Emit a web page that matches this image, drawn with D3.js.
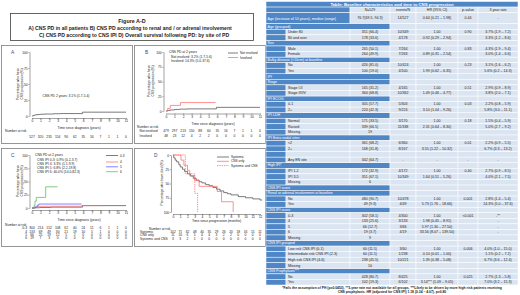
<!DOCTYPE html>
<html>
<head>
<meta charset="utf-8">
<script src="https://cdn.jsdelivr.net/npm/d3@7"></script>
<style>
  body { margin: 0; background: #fff; }
  svg { display: block; font-family: "Liberation Sans", Arial, sans-serif; }
</style>
</head>
<body>
<svg id="fig" width="520" height="295"></svg>
<script>
// ---- data ----
const yearTicks = [0, 1, 2, 3, 4, 5, 6, 7, 8, 9, 10, 11];
const monthTicks = [0, 1, 2, 3, 4, 5, 6, 7, 8, 9, 10, 11, 12];
const pctTicks = [0, 25, 50, 75, 100];

// A: all patients
const allTime = [0, 0.15, 0.3, 0.45, 0.7, 1.0, 1.5, 2.5, 3.3, 5.9];
const allPct = [0, 1.0, 1.6, 2.0, 2.4, 2.8, 3.1, 3.5, 3.8, 6.0];
const allEnd = 11;
const riskAll = [527, 320, 235, 154, 90, 62, 35, 16, 7, 1, 1, 0];

// B: renal / adrenal involvement
const notInvTime = [0, 0.2, 0.5, 1.0, 1.6, 2.5, 5.9];
const notInvPct = [0, 1.0, 1.8, 2.6, 3.2, 3.6, 6.2];
const notInvEnd = 11;
const invTime = [0, 0.2, 0.5, 1.7];
const invPct = [0, 4.5, 9.5, 14.3];
const invEnd = 5.8;
const riskNotInv = [479, 297, 213, 150, 88, 60, 35, 16, 7, 1, 1, 0];
const riskInv = [48, 23, 12, 4, 2, 2, 0, 0, 0, 0, 0, 0];

// C: CNS IPI
const ipi03Time = [0, 0.4, 0.9, 2.2, 5.9];
const ipi03Pct = [0, 0.5, 1.0, 1.6, 4.5];
const ipi03End = 11;
const ipi4Time = [0, 0.3, 0.6, 1.0, 5.8];
const ipi4Pct = [0, 1.5, 2.5, 3.3, 4.5];
const ipi4End = 8.3;
const ipi5Time = [0, 0.3, 0.6, 0.8];
const ipi5Pct = [0, 2, 5, 7.5];
const ipi5End = 5.8;
const ipi6Time = [0, 0.25, 0.35, 0.5, 1.6];
const ipi6Pct = [0, 5, 13, 20, 40];
const ipi6End = 3;
const riskIpi03 = [300, 214, 152, 108, 62, 40, 24, 11, 6, 1, 1, 0];
const riskIpi4 = [133, 69, 49, 30, 21, 19, 10, 5, 1, 0, 0, 0];
const riskIpi5 = [66, 25, 19, 12, 5, 2, 0, 0, 0, 0, 0, 0];
const riskIpi6 = [19, 7, 3, 0, 0, 0, 0, 0, 0, 0, 0, 0];

// D: overall survival after PD (percent died)
const sysTime = [0, 0.1, 0.3, 0.5, 0.8, 1.0, 1.3, 1.6, 2.0, 2.4, 2.8, 3.2, 3.6, 4.0, 4.5, 5.0, 5.5, 6.0, 6.5, 7.0, 7.5, 8.0, 9.0, 10.0, 11.0, 12.0];
const sysPct = [0, 5, 9, 12, 17, 21, 25, 29, 33, 37, 41, 44, 47, 49, 52, 54, 57, 60, 63, 66, 68, 70, 73, 75, 77, 79];
const sysEnd = 12.3;
const cnsTime = [0, 1.1, 1.5, 2.0, 2.3, 3.0, 3.6, 6.1, 6.7, 8.3];
const cnsPct = [0, 9, 18, 27, 36, 45, 55, 64, 82, 100];
const cnsEnd = 8.3;
const bothTime = [0, 1.7, 3.0, 3.4];
const bothPct = [0, 33, 67, 100];
const bothEnd = 3.4;
const riskSys = [102, 71, 62, 48, 40, 35, 29, 26, 20, 18, 16, 15, 11];
const riskCns = [11, 10, 6, 5, 4, 4, 3, 2, 2, 0, 0, 0, 0];
const riskBoth = [3, 3, 2, 1, 0, 0, 0, 0, 0, 0, 0, 0, 0];

// table
const tableHeaders = ["N=529", "events/N", "HR (95% CI)", "p-value", "3 year rate"];
const ageRow = ["Age (increase of 10 years), median (range)", "76.7(69.5- 94.3)", "14/527", "0.64 (0.21 \u2013 1.98)", "0.44", "-"];
const tableSections = [
  [4, "Age (grouped)"], [7, "Sex"], [10, "Bulky disease (>10cm) at baseline"], [13, "IPI"], [14, "Stage"],
  [17, "IPI ECOG"], [20, "IPI LDH"], [24, "IPI Extra nodal sites"], [29, "High IPI*"], [33, "CNS IPI score"],
  [34, "Renal or adrenal involvement at baseline"], [37, "CNS IPI score"], [43, "CNS IPI grouped"], [48, "CNS Prophylaxis***"]
];
const tableRows = [
  [5, "Under 80", "351 (66.4)", "10/349", "1.00", "0.90", "3.7% (1.9 \u2013 7.2)"],
  [6, "80 and over", "178 (33.6)", "4/178", "0.92 (0.29 \u2013 2.94)", "", "3.3% (1.2 \u2013 8.6)"],
  [8, "Male", "265 (50.1)", "7/264", "1.00", "0.83", "4.3% (1.9 \u2013 9.4)"],
  [9, "Female", "264 (49.9)", "7/263", "0.89 (0.31 \u2013 2.54)", "", "3.0% (1.4 \u2013 6.6)"],
  [11, "No", "426 (81.0)", "10/424", "1.00", "0.23", "3.1% (1.6 \u2013 6.2)"],
  [12, "Yes", "100 (19.0)", "4/100", "1.99 (0.62 \u2013 6.35)", "", "5.6% (0.2 \u2013 14.3)"],
  [15, "Stage I-II", "165 (31.2)", "4/165", "1.00", "0.51", "2.9% (0.9 \u2013 8.9)"],
  [16, "Stage III/IV", "364 (68.8)", "10/362", "1.49 (0.46 \u2013 4.77)", "", "3.8% (2.0 \u2013 7.1)"],
  [18, "0-1", "305 (57.7)", "5/303", "1.00", "0.03", "2.2% (0.8 \u2013 5.9)"],
  [19, "2+", "224 (42.3)", "9/224", "3.10 (1.04 \u2013 9.26)", "", "5.8% (3.0 \u2013 11.1)"],
  [21, "Normal", "171 (33.5)", "3/170", "1.00", "0.18", "1.5% (0.4 \u2013 5.9)"],
  [22, "Raised", "339 (66.5)", "11/338", "2.31 (0.64 \u2013 8.30)", "", "5.0% (2.7 \u2013 9.2)"],
  [23, "Missing", "19", "", "", "", ""],
  [25, "<2", "361 (68.2)", "6/360", "1.00", "0.01", "2.2% (0.9 \u2013 5.5)"],
  [26, "2+", "168 (31.8)", "8/167", "3.55 (1.22 \u2013 10.32)", "", "6.7% (3.3 \u2013 13.2)"],
  [27, "", "", "", "", "", ""],
  [28, "Any EN site", "342 (64.7)", "-", "-", "-", "-"],
  [30, "IPI 1-2", "172 (32.9)", "4/172", "1.00", "0.40", "2.7% (0.9 \u2013 8.5)"],
  [31, "IPI 3-5", "351 (67.1)", "10/349", "1.64 (0.51 \u2013 5.26)", "", "4.0% (2.1 \u2013 7.5)"],
  [32, "Missing", "6", "", "", "", ""],
  [35, "No", "480 (90.7)", "10/478", "1.00", "0.001", "2.8% (1.4 \u2013 5.4)"],
  [36, "Yes", "49 (9.3)", "4/49", "5.73 (1.76 \u2013 18.66)", "", "14.3% (5.0 \u2013 37.6)"],
  [38, "0-3", "302 (58.1)", "4/300", "1.00", "<0.001", "-**"],
  [39, "4", "133 (25.6)", "3/133", "1.98 (0.45 \u2013 8.91)", "", "-"],
  [40, "5", "66 (12.7)", "3/66", "5.97 (1.30 \u2013 27.50)", "", "-"],
  [41, "6", "19 (3.7)", "4/19", "33.56 (8.07 \u2013 139.50)", "", "-"],
  [42, "Missing", "9", "", "", "", ""],
  [44, "Low risk CNS IPI (0-1)", "60 (11.5)", "3/60", "1.00", "0.006", "4.0% (1.0 \u2013 15.0)"],
  [45, "Intermediate risk CNS IPI (2-3)", "60 (11.5)", "1/238", "0.10 (0.01 \u2013 1.00)", "", "1.1% (0.2 \u2013 7.2)"],
  [46, "High risk CNS IPI (4-6)", "238 (45.5)", "10/221", "1.39 (0.38 \u2013 5.08)", "", "6.7% (3.6 \u2013 12.4)"],
  [47, "Missing", "10", "", "", "", ""],
  [49, "No", "428 (80.7)", "8/425", "1.00", "0.025", "2.7% (1.3 \u2013 5.8)"],
  [50, "Yes", "102 (19.3)", "6/102", "3.14*** (1.09 \u2013 9.05)", "", "7.0% (3.2 \u2013 15.3)"]
];
const footnotes = [
  "*Fails the assumption of PH (p=0.0453), **3-year rate not available for all groups, ***Likely to be driven by more high risk patients receiving",
  "CNS prophylaxis. HR (adjusted for CNS IPI) 1.18 (0.34 \u2013 4.07), p=0.80"
];

// ---- drawing ----
const svg = d3.select("#fig");
const GRAY = "#505050", RED = "#ff6b6b", BLUE = "#5a5aff", GREEN = "#5cb85c";
const BLUEBG = "#4f86c6", LIGHT = "#dbe5f1";

function txt(g, x, y, s, size, opts = {}) {
  return g.append("text").attr("x", x).attr("y", y).text(s)
    .attr("font-size", size)
    .attr("dominant-baseline", "central")
    .attr("text-anchor", opts.anchor || "start")
    .attr("font-weight", opts.weight || "normal")
    .attr("fill", opts.fill || "#222");
}

// title box
svg.append("rect").attr("x", 10.5).attr("y", 13.5).attr("width", 243).attr("height", 27)
  .attr("fill", "#fff").attr("stroke", "#404040").attr("stroke-width", 0.8);
txt(svg, 132, 21, "Figure A-D", 5.4, { anchor: "middle", weight: "bold" });
txt(svg, 130, 28.3, "A) CNS PD in all patients B) CNS PD according to renal and / or adrenal involvement", 5.1, { anchor: "middle", weight: "bold" });
txt(svg, 134, 35.3, "C) CNS PD according to CNS IPI D) Overall survival following PD: by site of PD", 5.1, { anchor: "middle", weight: "bold" });

function drawPanel(p) {
  const g = svg.append("g");
  g.append("rect").attr("x", p.box[0] + 0.5).attr("y", p.box[1] + 0.5)
    .attr("width", p.box[2] - p.box[0]).attr("height", p.box[3] - p.box[1])
    .attr("fill", "#fff").attr("stroke", "#8c8c8c").attr("stroke-width", 0.9);
  txt(g, p.letter[0], p.letter[1], p.letterText, 4.8, { fill: "#2b4a8a" });

  const x = d3.scaleLinear().domain([0, d3.max(p.xTicks)]).range(p.xRange);
  const y = d3.scaleLinear().domain([0, 100]).range(p.yRange);

  const xa = g.append("g").attr("transform", `translate(0,${p.xAxisY})`)
    .call(d3.axisBottom(x).tickValues(p.xTicks).tickSize(1.2).tickSizeOuter(0).tickPadding(0.6));
  const ya = g.append("g").attr("transform", `translate(${p.yAxisX},0)`)
    .call(d3.axisLeft(y).tickValues(pctTicks).tickSize(1.2).tickSizeOuter(0).tickPadding(0.6));
  [xa, ya].forEach(a => {
    a.attr("font-family", null).attr("font-size", null);
    a.selectAll("path,line").attr("stroke", "#333").attr("stroke-width", 0.45);
    a.selectAll("text").attr("font-size", 3.3).attr("fill", "#222");
  });

  // y title
  p.yTitle.forEach((line, i) => {
    g.append("text").attr("transform", `translate(${p.yTitleX + i * 4},${p.yTitleY}) rotate(-90)`)
      .attr("text-anchor", "middle").attr("font-size", 3.3).attr("fill", "#222").text(line);
  });
  txt(g, (p.xRange[0] + p.xRange[1]) / 2, p.xTitleY, p.xTitle, 3.4, { anchor: "middle" });

  // curves
  const line = d3.line().x(d => x(d[0])).y(d => y(d[1])).curve(d3.curveStepAfter);
  p.curves.forEach(c => {
    const pts = c.t.map((t, i) => [t, c.v[i]]);
    pts.push([c.end, c.v[c.v.length - 1]]);
    g.append("path").attr("d", line(pts)).attr("fill", "none")
      .attr("stroke", c.color).attr("stroke-width", 0.75)
      .attr("stroke-dasharray", c.dash || null);
  });

  // number at risk
  txt(g, p.riskLabel[0], p.riskLabel[1], "Number at risk", 3.3);
  p.risk.forEach(r => {
    if (r.name) txt(g, r.nameX, r.y, r.name, 3.3, { anchor: r.anchor || "start" });
    g.selectAll(null).data(r.values).join("text")
      .attr("x", (d, i) => x(p.xTicks[i])).attr("y", r.y)
      .attr("font-size", 3.3).attr("fill", "#222")
      .attr("text-anchor", "middle").attr("dominant-baseline", "central")
      .text(d => d);
  });

  // legend
  (p.legendLines || []).forEach(l => {
    g.append("line").attr("x1", l.x1).attr("x2", l.x2).attr("y1", l.y).attr("y2", l.y)
      .attr("stroke", l.color).attr("stroke-width", 0.75).attr("stroke-dasharray", l.dash || null);
    txt(g, l.x2 + 2, l.y, l.label, 3.2);
  });
  (p.notes || []).forEach(n => txt(g, n.x, n.y, n.s, 3.3, { anchor: n.anchor || "start" }));
  return g;
}

const kmTitle = ["Percentage who have", "CNS progression (%)"];

// A
drawPanel({
  box: [1, 45, 132, 143], letter: [11, 52], letterText: "A",
  xTicks: yearTicks, xRange: [32, 126], yRange: [116, 52], xAxisY: 118, yAxisX: 29.5,
  yTitle: kmTitle, yTitleX: 18.5, yTitleY: 84,
  xTitle: "Time since diagnosis (years)", xTitleY: 127.5,
  curves: [{ t: allTime, v: allPct, end: allEnd, color: GRAY }],
  riskLabel: [5, 130.5],
  risk: [{ values: riskAll, y: 136.5 }],
  notes: [{ x: 66, y: 96, s: "CNS PD 2 years: 3.1% (1.7-5.4)", anchor: "middle" }]
});

// B
drawPanel({
  box: [134, 45, 265, 143], letter: [145, 52], letterText: "B",
  xTicks: yearTicks, xRange: [166, 260], yRange: [111, 52], xAxisY: 113.5, yAxisX: 163.5,
  yTitle: kmTitle, yTitleX: 149.5, yTitleY: 81,
  xTitle: "Time since diagnosis (years)", xTitleY: 124,
  curves: [
    { t: notInvTime, v: notInvPct, end: notInvEnd, color: GRAY },
    { t: invTime, v: invPct, end: invEnd, color: RED }
  ],
  riskLabel: [137, 127.3],
  risk: [
    { name: "Not involved", nameX: 139.5, values: riskNotInv, y: 131.3 },
    { name: "Involved", nameX: 139.5, values: riskInv, y: 135.5 }
  ],
  legendLines: [
    { x1: 228, x2: 238, y: 53, color: GRAY, label: "Not involved" },
    { x1: 228, x2: 238, y: 57.5, color: RED, label: "Involved" }
  ],
  notes: [
    { x: 169, y: 52, s: "CNS PD at 2 years" },
    { x: 171, y: 56.5, s: "Not involved: 3.2% (1.7-5.6)" },
    { x: 171, y: 61, s: "Involved: 14.3% (5.0-37.6)" }
  ]
});

// C
drawPanel({
  box: [1, 148, 132, 246], letter: [11, 155], letterText: "C",
  xTicks: yearTicks, xRange: [32, 126], yRange: [208, 155], xAxisY: 210, yAxisX: 29.5,
  yTitle: kmTitle, yTitleX: 18.5, yTitleY: 181,
  xTitle: "Time since diagnosis (years)", xTitleY: 219.8,
  curves: [
    { t: ipi03Time, v: ipi03Pct, end: ipi03End, color: GRAY },
    { t: ipi4Time, v: ipi4Pct, end: ipi4End, color: RED },
    { t: ipi5Time, v: ipi5Pct, end: ipi5End, color: BLUE },
    { t: ipi6Time, v: ipi6Pct, end: ipi6End, color: GREEN }
  ],
  riskLabel: [5, 225],
  risk: [
    { name: "0-3", nameX: 27, anchor: "end", values: riskIpi03, y: 228.3 },
    { name: "4", nameX: 27, anchor: "end", values: riskIpi4, y: 231.6 },
    { name: "5", nameX: 27, anchor: "end", values: riskIpi5, y: 234.9 },
    { name: "6", nameX: 27, anchor: "end", values: riskIpi6, y: 238.2 }
  ],
  legendLines: [
    { x1: 106, x2: 118, y: 155.5, color: GRAY, label: "0-3" },
    { x1: 106, x2: 118, y: 162, color: RED, label: "4" },
    { x1: 106, x2: 118, y: 166.8, color: BLUE, label: "5" },
    { x1: 106, x2: 118, y: 171.7, color: GREEN, label: "6" }
  ],
  notes: [
    { x: 35, y: 155.3, s: "CNS PD at 2 years" },
    { x: 37, y: 159.7, s: "CNS IPI 0-3: 0.9% (0.2-3.7)" },
    { x: 37, y: 163.8, s: "CNS IPI 4: 3.3% (1.1-9.9)" },
    { x: 37, y: 167.9, s: "CNS IPI 5: 6.8% (2.2-19.8)" },
    { x: 37, y: 172, s: "CNS IPI 6: 40.0% (14.0-82.3)" }
  ]
});

// D
drawPanel({
  box: [134, 148, 265, 246], letter: [154, 155], letterText: "D",
  xTicks: monthTicks, xRange: [173, 260], yRange: [155, 212], xAxisY: 214, yAxisX: 171,
  yTitle: ["Percentage who have died (%)"], yTitleX: 162.5, yTitleY: 183,
  xTitle: "Time since progression (months)", xTitleY: 221,
  curves: [
    { t: sysTime, v: sysPct, end: sysEnd, color: GRAY },
    { t: cnsTime, v: cnsPct, end: cnsEnd, color: RED },
    { t: bothTime, v: bothPct, end: bothEnd, color: RED, dash: "1.4,0.9" }
  ],
  riskLabel: [149, 228.7],
  risk: [
    { name: "Systemic", nameX: 140, values: riskSys, y: 232 },
    { name: "CNS only", nameX: 140, values: riskCns, y: 235.3 },
    { name: "Systemic and CNS", nameX: 140, values: riskBoth, y: 238.6 }
  ],
  legendLines: [
    { x1: 217, x2: 229, y: 157, color: GRAY, label: "Systemic" },
    { x1: 217, x2: 229, y: 161.3, color: RED, label: "CNS only" },
    { x1: 217, x2: 229, y: 165.6, color: RED, dash: "1.4,0.9", label: "Systemic and CNS" }
  ]
});

// ---- table ----
const colX = [266, 286, 350, 390, 416, 458, 478, 518];
const rowY = d3.scaleBand().domain(d3.range(51)).range([1.5, 285]);
const bw = rowY.bandwidth();
const tg = svg.append("g");
const fs = 3.6;
const mid = i => (colX[i] + colX[i + 1]) / 2;

function cell(x0, x1, r0, r1, fill) {
  tg.append("rect").attr("x", x0).attr("y", rowY(r0)).attr("width", x1 - x0)
    .attr("height", rowY(r1) + bw - rowY(r0)).attr("fill", fill)
    .attr("stroke", "#fff").attr("stroke-width", 0.5);
}
const cy = r => rowY(r) + bw / 2;

// title row
cell(colX[0], colX[7], 0, 0, BLUEBG);
txt(tg, 392, cy(0), "Table: Baseline characteristics and time to CNS progression", 4.3, { anchor: "middle", weight: "bold", fill: "#fff" });

// header row
cell(colX[0], colX[2], 1, 1, BLUEBG);
tableHeaders.forEach((h, i) => {
  cell(colX[i + 2], colX[i + 3], 1, 1, LIGHT);
  txt(tg, mid(i + 2), cy(1), h, fs, { anchor: "middle" });
});

// age row (double height)
cell(colX[0], colX[2], 2, 3, BLUEBG);
txt(tg, colX[0] + 1.5, rowY(3) + 0.6, ageRow[0], fs, { fill: "#fff" });
ageRow.slice(1).forEach((v, i) => {
  cell(colX[i + 2], colX[i + 3], 2, 3, LIGHT);
  txt(tg, mid(i + 2), rowY(3), v, fs, { anchor: "middle" });
});

// section rows
tableSections.forEach(([r, label]) => {
  cell(colX[0], colX[3], r, r, BLUEBG);
  for (let i = 3; i < 7; i++) cell(colX[i], colX[i + 1], r, r, LIGHT);
  txt(tg, colX[0] + 1.5, cy(r), label, fs, { fill: "#fff" });
});

// data rows
tableRows.forEach(d => {
  const r = d[0];
  cell(colX[0], colX[1], r, r, BLUEBG);
  for (let i = 1; i < 7; i++) cell(colX[i], colX[i + 1], r, r, LIGHT);
  txt(tg, colX[1] + 2, cy(r), d[1], fs);
  d.slice(2).forEach((v, i) => {
    if (v) txt(tg, mid(i + 2), cy(r), v, fs, { anchor: "middle" });
  });
});

// footnotes
footnotes.forEach((f, i) => {
  txt(svg, 392, 287.8 + i * 4.6, f, 3.35, { anchor: "middle", weight: "bold" });
});
</script>
</body>
</html>
